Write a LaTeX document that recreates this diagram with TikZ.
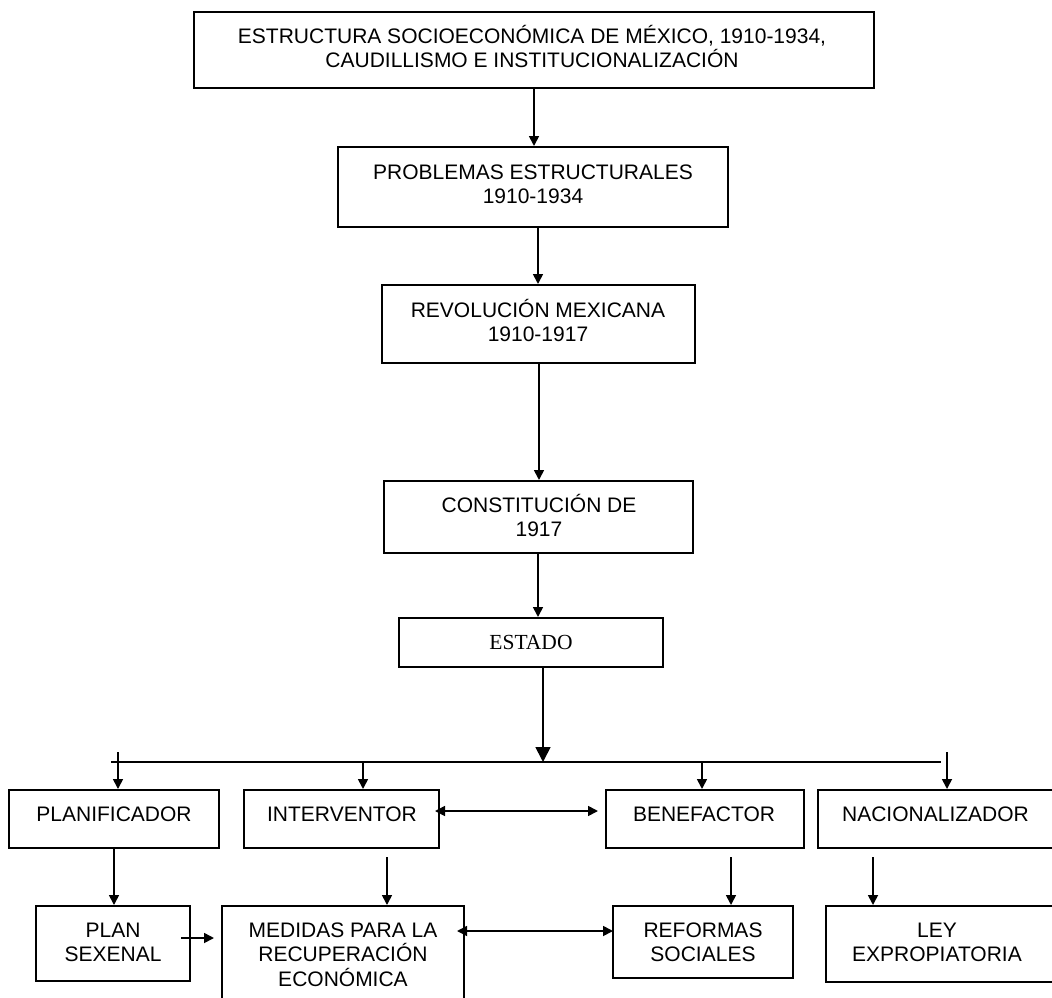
\documentclass[tikz,border=0pt]{standalone}
\usepackage{fontspec}
\setmainfont{Liberation Sans}
\newfontfamily\serifface{Liberation Serif}
\usetikzlibrary{arrows.meta}
\newcommand\tstrut{\rule{0pt}{22pt}}
\begin{document}
\begin{tikzpicture}[x=1pt,y=-1pt,
  bx/.style 2 args={draw,line width=2pt,minimum width=#1,minimum height=#2,inner sep=0pt},
  lbl/.style={anchor=north,inner sep=0pt,align=center,font=\fontsize{21}{24.5}\selectfont},
  arr/.style={line width=1.7pt,-{Triangle[length=10pt,width=10pt]}},
  darr/.style={line width=1.7pt,{Triangle[length=10pt,width=10pt]}-{Triangle[length=10pt,width=10pt]}},
  bigarr/.style={line width=1.7pt,-{Triangle[length=15pt,width=15pt]}},
  busline/.style={line width=1.7pt}]
\useasboundingbox (0,0) rectangle (1052,998);
\fill[white] (0,0) rectangle (1052,998);
% boxes
\node[bx={680pt}{76pt}] (top) at (534,50) {};
\node[bx={390pt}{80pt}] (prob) at (533,187) {};
\node[bx={313pt}{78pt}] (rev) at (538.5,324) {};
\node[bx={309pt}{72pt}] (const) at (538.5,517) {};
\node[bx={264pt}{49pt}] (estado) at (531,642.5) {};
\node[bx={210pt}{58pt}] (plan) at (114,819) {};
\node[bx={195pt}{58pt}] (interv) at (341.5,819) {};
\node[bx={198pt}{58pt}] (benef) at (705,819) {};
\node[bx={252pt}{58pt}] (nacio) at (944,819) {};
\node[bx={154pt}{75pt}] (plansex) at (113,943.5) {};
\node[bx={242pt}{104pt}] (medidas) at (343,958) {};
\node[bx={180pt}{72pt}] (reformas) at (703,942) {};
\node[bx={244pt}{76pt}] (ley) at (948,944) {};
% texts
\node[lbl] (ttop) at (532,21) {\tstrut ESTRUCTURA SOCIOECON\'OMICA DE M\'EXICO, 1910-1934,\\CAUDILLISMO E INSTITUCIONALIZACI\'ON};
\node[lbl] (tprob) at (533,157) {\tstrut PROBLEMAS ESTRUCTURALES\\1910-1934};
\node[lbl] (trev) at (538,295) {\tstrut REVOLUCI\'ON MEXICANA\\1910-1917};
\node[lbl] (tconst) at (539,490) {\tstrut CONSTITUCI\'ON DE\\1917};
\node[lbl,font=\serifface\fontsize{21.5}{24.5}\selectfont] (testado) at (531,627) {\tstrut ESTADO};
\node[lbl] (tplan) at (114,799) {\tstrut PLANIFICADOR};
\node[lbl] (tinterv) at (342,799) {\tstrut INTERVENTOR};
\node[lbl] (tbenef) at (704,799) {\tstrut BENEFACTOR};
\node[lbl] (tnacio) at (935.5,799) {\tstrut NACIONALIZADOR};
\node[lbl] (tplansex) at (113,915) {\tstrut PLAN\\SEXENAL};
\node[lbl] (tmedidas) at (343,915) {\tstrut MEDIDAS PARA LA\\RECUPERACI\'ON\\ECON\'OMICA};
\node[lbl] (treformas) at (703,915) {\tstrut REFORMAS\\SOCIALES};
\node[lbl] (tley) at (937,915) {\tstrut LEY\\EXPROPIATORIA};
% vertical chain
\coordinate (c1) at (534,0);
\coordinate (c2) at (538,0);
\coordinate (c3) at (539,0);
\coordinate (c4) at (538,0);
\coordinate (c5) at (543,0);
\draw[arr] (c1 |- top.south) -- (c1 |- prob.north);
\draw[arr] (c2 |- prob.south) -- (c2 |- rev.north);
\draw[arr] (c3 |- rev.south) -- (c3 |- const.north);
\draw[arr] (c4 |- const.south) -- (c4 |- estado.north);
% bus
\coordinate (busL) at (111,762);
\coordinate (busR) at (941,762);
\draw[bigarr] (c5 |- estado.south) -- (c5 |- busL);
\draw[busline] (busL) -- (busR);
\coordinate (b1) at (118,752);
\coordinate (b2) at (363,762);
\coordinate (b3) at (702,762);
\coordinate (b4) at (947,752);
\draw[arr] (b1) -- (b1 |- plan.north);
\draw[arr] (b2) -- (b2 |- interv.north);
\draw[arr] (b3) -- (b3 |- benef.north);
\draw[arr] (b4) -- (b4 |- nacio.north);
% row 1 to row 2
\coordinate (d1) at (114,0);
\coordinate (d2) at (387,857);
\coordinate (d3) at (731,857);
\coordinate (d4) at (873,857);
\draw[arr] (d1 |- plan.south) -- (d1 |- plansex.north);
\draw[arr] (d2) -- (d2 |- medidas.north);
\draw[arr] (d3) -- (d3 |- reformas.north);
\draw[arr] (d4) -- (d4 |- ley.north);
% horizontal arrows
\coordinate (h1a) at (435,811);
\coordinate (h1b) at (598,811);
\draw[darr] (h1a) -- (h1b);
\coordinate (h2a) at (181,938);
\coordinate (h2b) at (214,938);
\draw[arr] (h2a) -- (h2b);
\coordinate (h3a) at (457,931);
\coordinate (h3b) at (613,931);
\draw[darr] (h3a) -- (h3b);
\end{tikzpicture}
\end{document}
